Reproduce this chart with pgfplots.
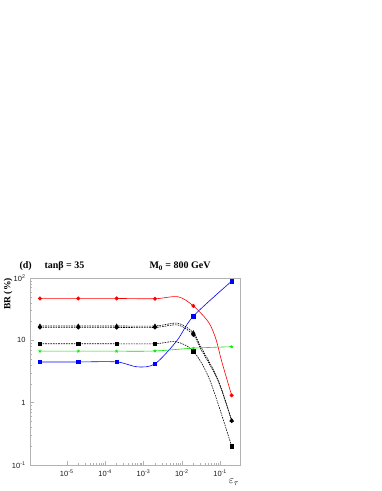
\documentclass[border=0pt]{standalone}
\usepackage{fontspec}
\setmainfont{Liberation Serif}
\setsansfont{Liberation Sans}
\usepackage{pgfplots}
\pgfplotsset{compat=1.18}
\definecolor{rootRed}{RGB}{255,0,0}
\definecolor{rootBlue}{RGB}{0,0,255}
\definecolor{rootGreen}{RGB}{0,230,0}
\begin{document}
\begin{tikzpicture}[x=1pt,y=1pt]
\path (0,0) rectangle (382,491);
\begin{axis}[at={(30pt,26pt)},anchor=south west,scale only axis,
  width=210pt,height=187pt,
  xmode=log,ymode=log,xmin=1.1e-6,xmax=0.33,ymin=0.1,ymax=100,
  axis line style={draw=gray!60},
  tick align=inside,xtick pos=bottom,ytick pos=left,
  major tick length=4pt,minor tick length=2pt,
  tick style={gray!60,line width=0.4pt},
  xtick={1e-5,1e-4,1e-3,1e-2,1e-1},
  xticklabels={10\textsuperscript{-5},10\textsuperscript{-4},10\textsuperscript{-3},10\textsuperscript{-2},10\textsuperscript{-1}},
  ytick={0.1,1,10,100},
  yticklabels={10\textsuperscript{-1},1,10,10\textsuperscript{2}},
  ticklabel style={font=\sffamily\fontsize{7.5}{8}\selectfont,text=gray!20!black},
  xticklabel style={yshift=-1pt},
  yticklabel style={xshift=-1pt},
  every axis plot/.append style={line width=0.6pt},
  clip=false]
% lines
\addplot[rootRed,smooth,tension=0.5] coordinates {(2e-6,47) (2e-5,47) (2e-4,47) (2e-3,46.5) (8e-3,50) (2e-2,35.7) (5e-2,19.5) (7.8e-2,10.4) (1.1e-1,4.6) (2e-1,1.31)};
\addplot[rootBlue,smooth,tension=0.5] coordinates {(2e-6,4.5) (2e-5,4.5) (2e-4,4.5) (7e-4,3.75) (2e-3,4.2) (7.3e-3,9.7) (2e-2,24.4) (2e-1,89)};
\addplot[black,smooth,tension=0.5,dash pattern=on 1.6pt off 1pt] coordinates {(2e-6,17.0) (2e-5,17.0) (2e-4,17.0) (2e-3,17.0) (8e-3,18.8) (2e-2,13.3) (3e-2,8.3) (8.7e-2,2.4) (2e-1,0.52)};
\addplot[black,smooth,tension=0.5,dash pattern=on 1.6pt off 1pt] coordinates {(2e-6,16.1) (2e-5,16.1) (2e-4,16.1) (2e-3,16.1) (8e-3,17.6) (2e-2,12.3) (3e-2,7.6) (8.7e-2,2.3) (2e-1,0.51)};
\addplot[black,smooth,tension=0.5,dash pattern=on 1.6pt off 1pt] coordinates {(2e-6,8.8) (2e-5,8.8) (2e-4,8.8) (2e-3,8.8) (7e-3,9.5) (2e-2,6.7) (5.4e-2,2.3) (2e-1,0.2)};
\addplot[rootGreen,smooth,tension=0.5] coordinates {(2e-6,6.7) (2e-5,6.7) (2e-4,6.7) (2e-3,6.75) (2e-2,7.5) (2e-1,7.9)};
% markers
\addplot[only marks,mark=*,mark size=1.7pt,rootRed] coordinates {(2e-6,47) (2e-5,47) (2e-4,47) (2e-3,46.5) (2e-2,35.7) (2e-1,1.31)};
\addplot[only marks,mark=square*,mark size=1.8pt,rootBlue] coordinates {(2e-6,4.5) (2e-5,4.5) (2e-4,4.5) (2e-3,4.2) (2e-2,24.4) (2e-1,89)};
\addplot[only marks,mark=triangle*,mark size=1.9pt,black] coordinates {(2e-6,17.0) (2e-5,17.0) (2e-4,17.0) (2e-3,17.0) (2e-2,13.3) (2e-1,0.52)};
\addplot[only marks,mark=*,mark size=1.8pt,black] coordinates {(2e-6,16.1) (2e-5,16.1) (2e-4,16.1) (2e-3,16.1) (2e-2,12.3) (2e-1,0.51)};
\addplot[only marks,mark=square*,mark size=1.7pt,black] coordinates {(2e-6,8.8) (2e-5,8.8) (2e-4,8.8) (2e-3,8.8) (2e-2,6.7) (2e-1,0.2)};
\addplot[only marks,mark=star,mark size=1.6pt,rootGreen] coordinates {(2e-6,6.7) (2e-5,6.7) (2e-4,6.7) (2e-3,6.75) (2e-2,7.5) (2e-1,7.9)};
\end{axis}
\node[font=\bfseries\fontsize{10}{11}\selectfont,anchor=west] at (16,225) {(d)};
\node[font=\bfseries\fontsize{10}{11}\selectfont,anchor=west] at (41,225) {tanβ = 35};
\node[font=\bfseries\fontsize{10}{11}\selectfont,anchor=west] at (146,225) {M\textsubscript{0} = 800 GeV};
\node[font=\bfseries\fontsize{9.5}{11}\selectfont,rotate=90] at (8,197) {BR (\%)};
\node[font=\fontsize{11}{12}\selectfont] at (234,9) {$\varepsilon_{\tau}$};
\end{tikzpicture}
\end{document}
